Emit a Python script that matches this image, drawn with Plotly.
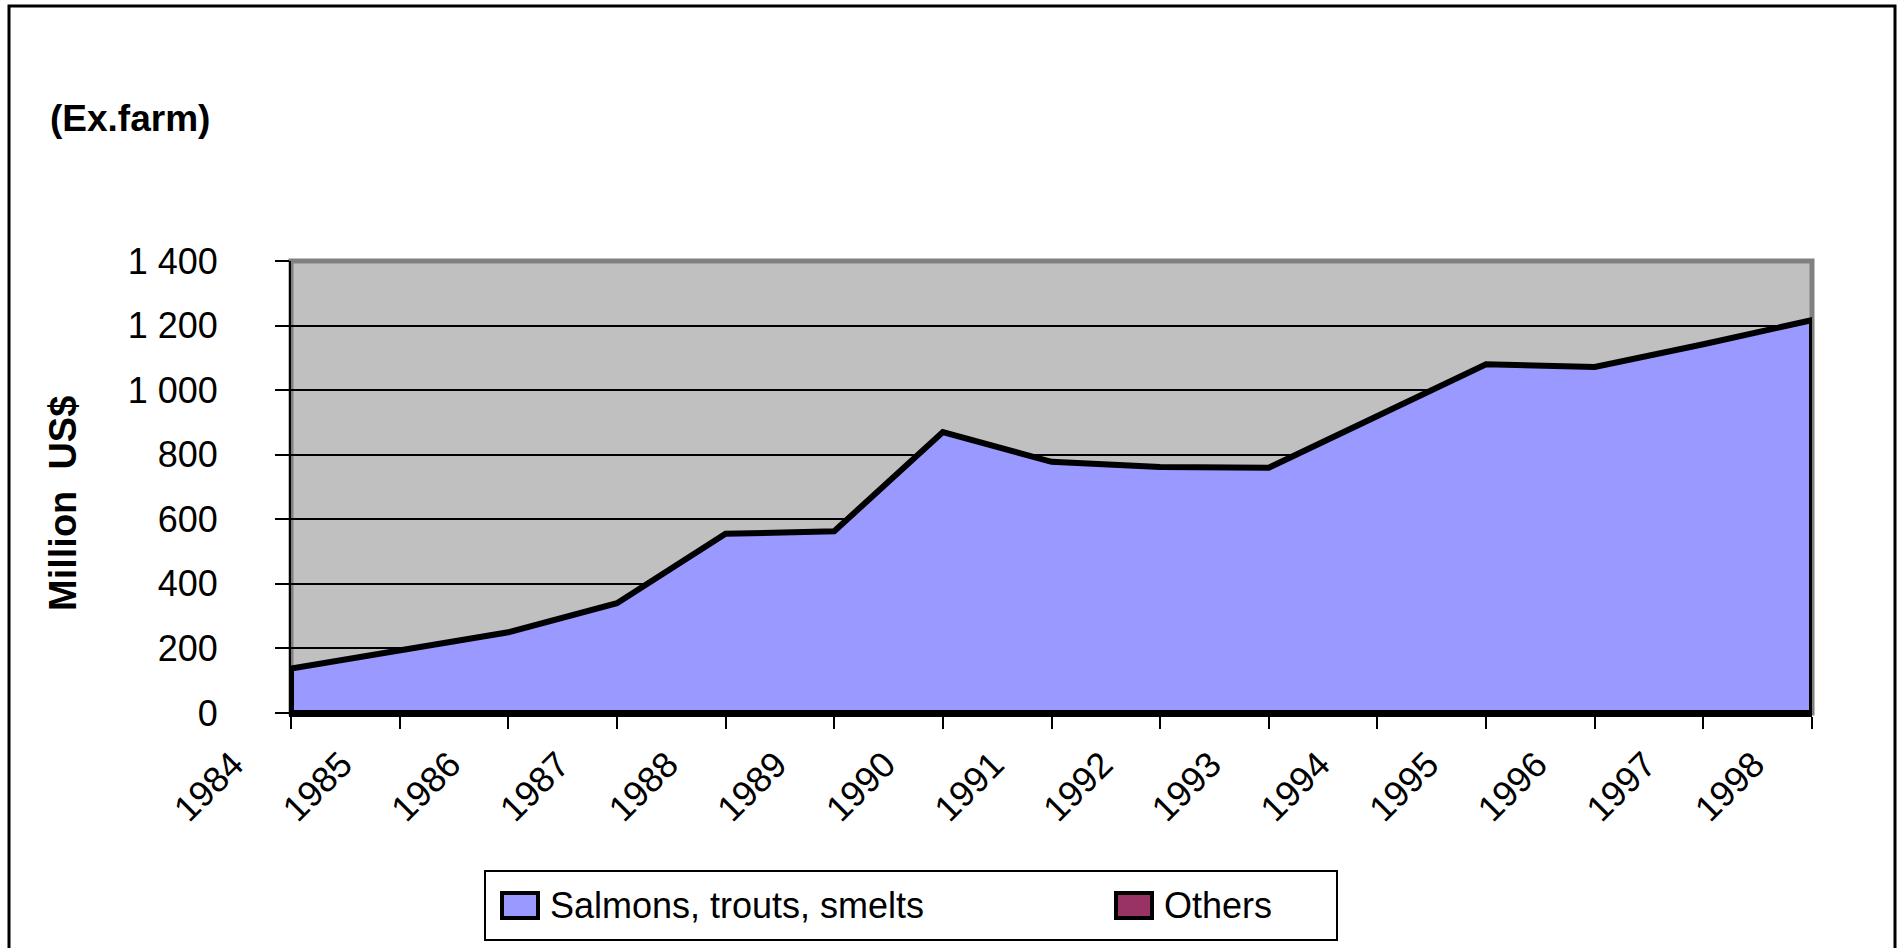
import plotly.graph_objects as go

years = list(range(1984, 1999))
salmon = [138, 195, 250, 340, 555, 563, 870, 778, 762, 760, 922, 1080, 1072, 1142, 1217]

y_ticks = [0, 200, 400, 600, 800, 1000, 1200, 1400]
y_labels = ["0", "200", "400", "600", "800", "1 000", "1 200", "1 400"]

legend_names = ["Salmons, trouts, smelts", "Others"]
legend_colors = ["#9999FF", "#993366"]

W, H = 1904, 948
L, R, T, B = 291, 1812, 261, 713
FONT = "Arial, Liberation Sans, sans-serif"


def px(x):
    return (x - L) / (R - L)


def py(y):
    return (B - y) / (B - T)


fig = go.Figure()

# closed outline round the area, like the Excel area chart
fig.add_trace(go.Scatter(
    x=years + [years[-1], years[0], years[0]],
    y=salmon + [0, 0, salmon[0]],
    fill="toself", fillcolor="#9999FF",
    line=dict(color="black", width=6),
    mode="lines", showlegend=False, hoverinfo="skip",
))

shapes = [
    # plot area border
    dict(type="rect", xref="paper", yref="paper", x0=0, x1=1, y0=0, y1=1,
         line=dict(color="#808080", width=5), layer="between"),
    # outer chart frame
    dict(type="rect", xref="paper", yref="paper", x0=px(9), x1=px(1895), y0=py(6), y1=py(1000),
         line=dict(color="black", width=3)),
    # legend box
    dict(type="rect", xref="paper", yref="paper", x0=px(485), x1=px(1337), y0=py(871), y1=py(940),
         line=dict(color="black", width=2), fillcolor="white"),
]
annotations = [
    dict(text="<b>(Ex.farm)</b>", xref="paper", yref="paper", x=px(48), y=py(118),
         xanchor="left", yanchor="middle", showarrow=False, font=dict(size=37, color="black")),
    dict(text="<b>Million\u00a0\u00a0US$</b>", xref="paper", yref="paper", x=px(63), y=py(504),
         xanchor="center", yanchor="middle", textangle=-90, showarrow=False,
         font=dict(size=38, color="black")),
]

sym_x = [502, 1116]
for name, color, sx in zip(legend_names, legend_colors, sym_x):
    shapes.append(dict(type="rect", xref="paper", yref="paper", x0=px(sx), x1=px(sx + 36),
                       y0=py(893), y1=py(918), fillcolor=color, line=dict(color="black", width=4)))
    annotations.append(dict(text=name, xref="paper", yref="paper", x=px(sx + 46), y=py(905),
                            xanchor="left", yanchor="middle", showarrow=False,
                            font=dict(size=36, color="black")))

fig.update_layout(
    width=W, height=H,
    margin=dict(l=L, r=W - R, t=T, b=H - B),
    paper_bgcolor="white",
    plot_bgcolor="#C0C0C0",
    font=dict(family=FONT, size=36, color="black"),
    showlegend=False,
    shapes=shapes,
    annotations=annotations,
    xaxis=dict(
        range=[years[0], years[-1]], tickvals=years, ticktext=[str(y) for y in years],
        tickangle=-45, ticks="outside", ticklen=12, tickwidth=2, tickcolor="black",
        showgrid=False, zeroline=False, showline=True, linecolor="black", linewidth=4,
        ticklabelshift=-58, ticklabelstandoff=0,
    ),
    yaxis=dict(
        range=[0, 1400], tickvals=y_ticks, ticktext=y_labels,
        ticks="outside", ticklen=14, tickwidth=2, tickcolor="black",
        showgrid=True, gridcolor="black", gridwidth=2, zeroline=False,
        showline=True, linecolor="black", linewidth=2, ticklabelstandoff=50,
    ),
)

fig.write_html("out.html", config={"displayModeBar": False},
               post_script="document.body.style.margin='0';document.body.style.overflow='hidden';")
